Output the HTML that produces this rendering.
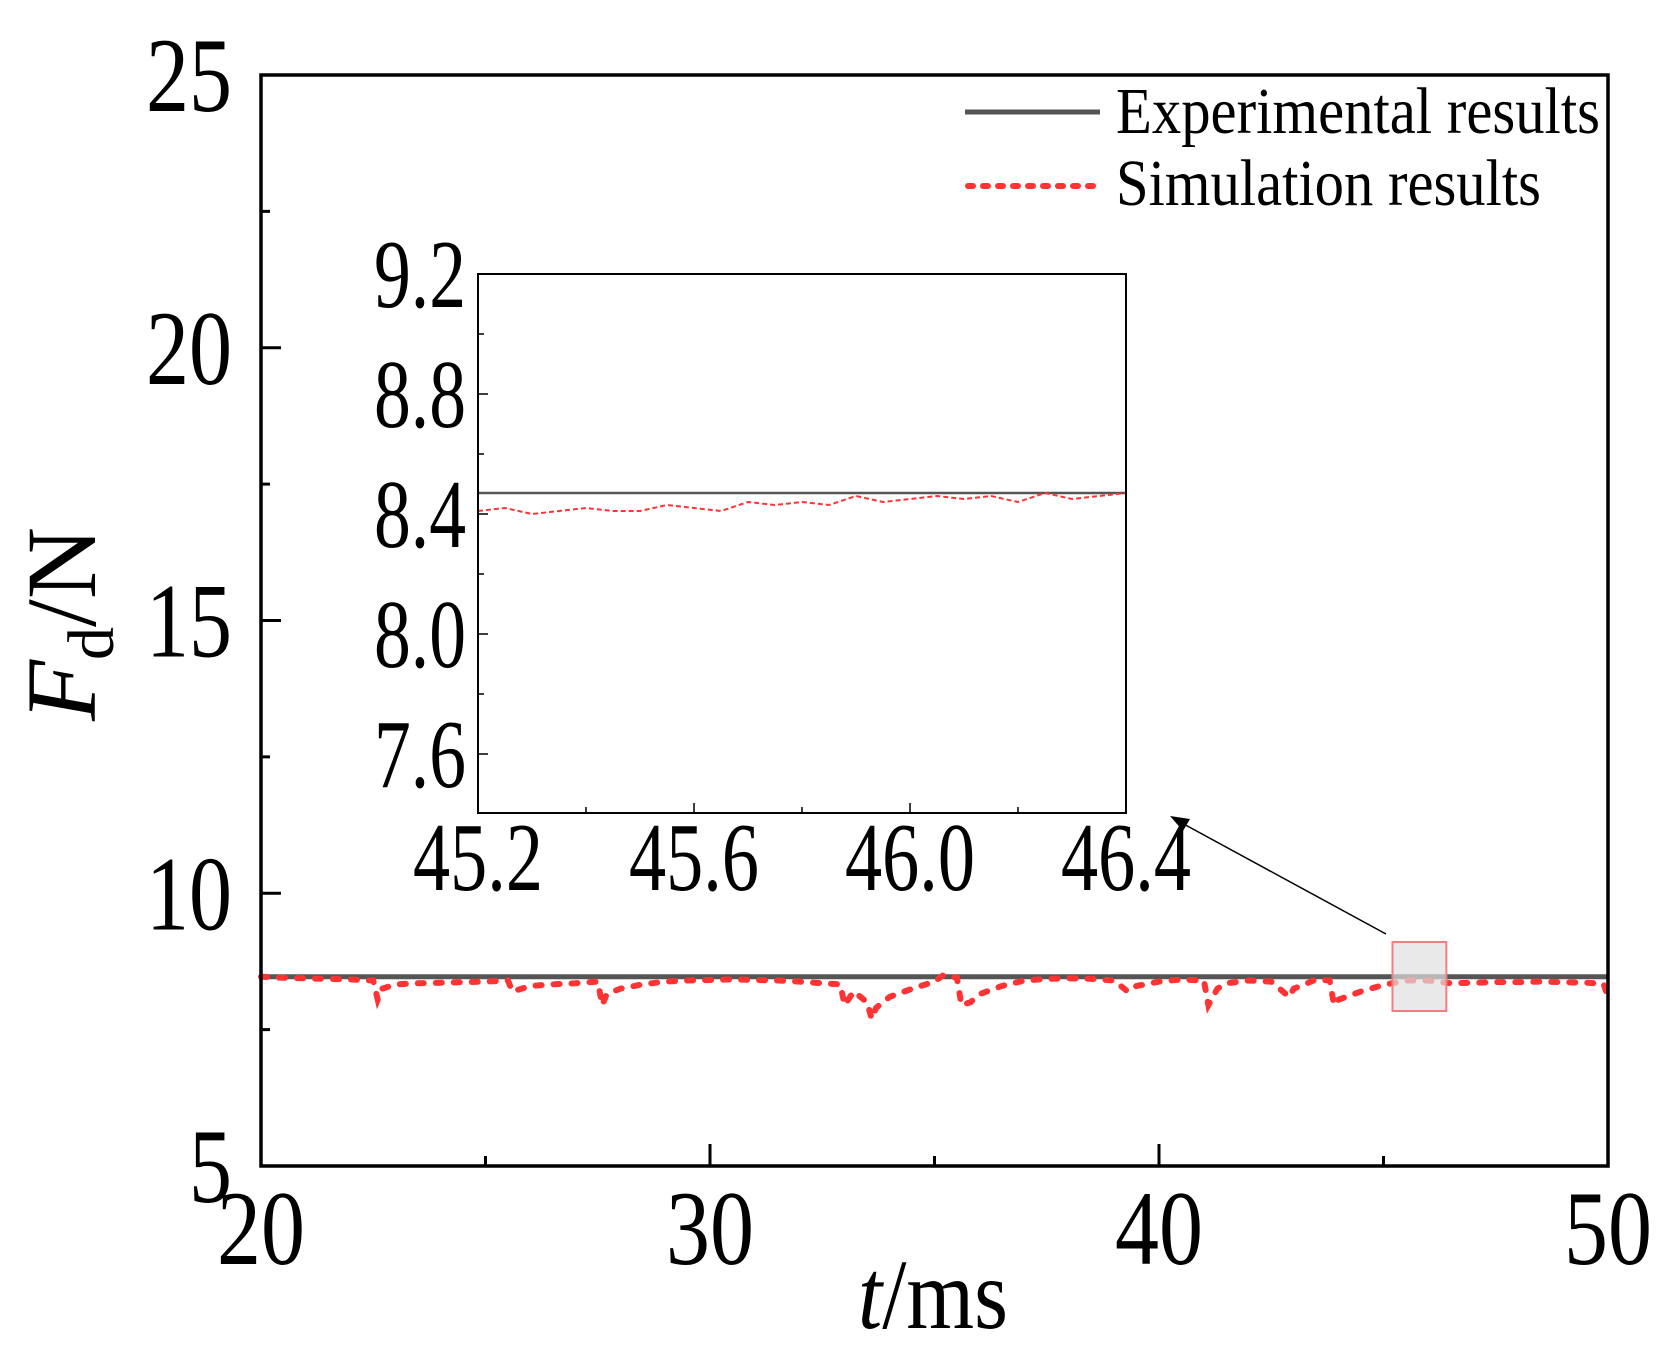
<!DOCTYPE html>
<html><head><meta charset="utf-8"><style>
html,body{margin:0;padding:0;background:#fff;}
svg{display:block;font-family:"Liberation Serif",serif;}
</style></head><body>
<svg id="chart" width="1672" height="1363" viewBox="0 0 1672 1363"></svg>
<script>
// ---- main chart data ----
const mainXTicks=[20,30,40,50];
const mainYTicks=[5,10,15,20,25];
const expValue=[8.47];
const simT=[20,20.5,21,21.5,22,22.5,22.6,22.7,23,23.5,24,24.5,25,25.5,25.6,26,26.5,27,27.5,27.6,27.7,28,28.5,29,29.5,30,30.5,31,31.5,32,32.5,32.9,33.0,33.2,33.5,33.6,33.7,34,34.5,35,35.2,35.5,35.6,35.8,36,36.5,37,37.5,38,38.5,39,39.3,39.5,40,40.5,41,41.1,41.3,41.5,42,42.5,42.9,43,43.3,43.5,43.8,43.9,44,44.5,45,45.5,46,46.5,47,47.5,48,48.5,49,49.5,49.9,50];
const simV=[8.47,8.45,8.44,8.43,8.42,8.40,8.05,8.25,8.33,8.35,8.36,8.37,8.38,8.40,8.20,8.30,8.33,8.35,8.38,7.95,8.15,8.25,8.33,8.38,8.40,8.41,8.42,8.41,8.40,8.38,8.35,8.33,7.95,8.20,8.00,7.70,7.90,8.10,8.25,8.38,8.50,8.45,7.95,8.00,8.15,8.30,8.40,8.43,8.44,8.43,8.40,8.20,8.30,8.38,8.42,8.40,7.95,8.25,8.35,8.40,8.38,8.10,8.25,8.35,8.42,8.40,7.95,8.05,8.20,8.32,8.40,8.40,8.35,8.36,8.37,8.37,8.38,8.37,8.36,8.34,8.10];
// ---- inset data ----
const insXTicks=[45.2,45.6,46.0,46.4];
const insYTicks=[7.6,8.0,8.4,8.8,9.2];
const insT=[45.2,45.25,45.3,45.35,45.4,45.45,45.5,45.55,45.6,45.65,45.7,45.75,45.8,45.85,45.9,45.95,46.0,46.05,46.1,46.15,46.2,46.25,46.3,46.35,46.4];
const insV=[8.41,8.42,8.40,8.41,8.42,8.41,8.41,8.43,8.42,8.41,8.44,8.43,8.44,8.43,8.46,8.44,8.45,8.46,8.45,8.46,8.44,8.47,8.45,8.46,8.47];

const NS="http://www.w3.org/2000/svg";
const svg=document.getElementById('chart');
function mk(tag,attrs,parent){const e=document.createElementNS(NS,tag);for(const k in attrs)e.setAttribute(k,attrs[k]);(parent||svg).appendChild(e);return e;}
function txt(s,x,y,size,len,anchor,parent){const t=mk('text',{x:x,y:y,'font-size':size,'text-anchor':anchor||'middle',textLength:len,lengthAdjust:'spacingAndGlyphs'},parent);t.textContent=s;return t;}

const M={l:261,r:1608,t:75,b:1166,x0:20,x1:50,y0:5,y1:25};
const mx=v=>M.l+(v-M.x0)/(M.x1-M.x0)*(M.r-M.l);
const my=v=>M.b-(v-M.y0)/(M.y1-M.y0)*(M.b-M.t);

let e=mk('line',{x1:M.l,x2:M.r,y1:my(expValue[0]),y2:my(expValue[0]),stroke:'#555',"stroke-width":5});


let p=mk('polyline',{points:simT.map((t,i)=>mx(t)+','+my(simV[i])).join(' '),fill:'none',stroke:'#ff3333','stroke-width':6,'stroke-dasharray':'6,12','stroke-linecap':'round'});



let zb=mk('rect',{x:mx(45.2),y:942,width:mx(46.4)-mx(45.2),height:69,fill:'#e0e0e0','fill-opacity':0.7,stroke:'#f08080','stroke-width':2});



let fr=mk('rect',{x:M.l,y:M.t,width:M.r-M.l,height:M.b-M.t,fill:'none',stroke:'#000','stroke-width':3.5});



for(let v=20;v<=50;v+=5){const big=v%10===0;mk('line',{x1:mx(v),x2:mx(v),y1:M.b,y2:M.b-(big?22:10),stroke:'#000','stroke-width':3});}
for(let v=5;v<=25;v+=2.5){const big=v%5===0;mk('line',{x1:M.l,x2:M.l+(big?20:9),y1:my(v),y2:my(v),stroke:'#000','stroke-width':3});}
mainXTicks.forEach(v=>{const t=txt(String(v),mx(v),1264,106,88);});
mainYTicks.forEach(v=>{const s=String(v);const t=txt(s,232,my(v)+36,106,s.length*43,'end');});

const xt=mk('text',{x:933,y:1328,'font-size':100,'text-anchor':'middle'});


xt.innerHTML='<tspan font-style="italic">t</tspan>/ms';
xt.setAttribute('textLength',150);xt.setAttribute('lengthAdjust','spacingAndGlyphs');
const yt=mk('text',{x:0,y:0,'font-size':100,'text-anchor':'middle',transform:'translate(95,624) rotate(-90)'});


yt.innerHTML='<tspan font-style="italic">F</tspan><tspan font-size="66" dy="18">d</tspan><tspan dy="-18">/N</tspan>';

let l1=mk('line',{x1:965,x2:1100,y1:112,y2:112,stroke:'#555','stroke-width':5});


let lt1=txt('Experimental results',1116,133,66,484,'start');


let l2=mk('line',{x1:968,x2:1100,y1:186,y2:186,stroke:'#ff3333','stroke-width':6,'stroke-dasharray':'5,10','stroke-linecap':'round'});


let lt2=txt('Simulation results',1116,205,66,425,'start');



const I={l:478,r:1126,t:274,b:813,x0:45.2,x1:46.4,y0:7.6,y1:9.2,py0:754};
const ix=v=>I.l+(v-I.x0)/(I.x1-I.x0)*(I.r-I.l);
const iy=v=>I.py0-(v-I.y0)/(I.y1-I.y0)*(I.py0-I.t);
let ie=mk('line',{x1:I.l,x2:I.r,y1:iy(expValue[0]),y2:iy(expValue[0]),stroke:'#555','stroke-width':2.5});


let ip=mk('polyline',{points:insT.map((t,i)=>ix(t)+','+iy(insV[i])).join(' '),fill:'none',stroke:'#ff3333','stroke-width':2,'stroke-dasharray':'5,3'});


let ifr=mk('rect',{x:I.l,y:I.t,width:I.r-I.l,height:I.b-I.t,fill:'none',stroke:'#000','stroke-width':2});


for(let k=0;k<=6;k++){const v=45.2+k*0.2;const big=k%2===0;mk('line',{x1:ix(v),x2:ix(v),y1:I.b,y2:I.b-(big?10:6),stroke:'#000','stroke-width':1.5});}
for(let k=0;k<=8;k++){const v=7.6+k*0.2;const big=k%2===0;mk('line',{x1:I.l,x2:I.l+(big?10:6),y1:iy(v),y2:iy(v),stroke:'#000','stroke-width':1.5});}
insXTicks.forEach(v=>{const t=txt(v.toFixed(1),ix(v),890,97,130);});
insYTicks.forEach(v=>{const t=txt(v.toFixed(1),466,iy(v)+33,97,92,'end');});

let ar=mk('line',{x1:1386,y1:934,x2:1180,y2:822,stroke:'#000','stroke-width':1.5});


let ah=mk('polygon',{points:'1170,816 1190,819 1183,831',fill:'#000'});


</script>
</body></html>
